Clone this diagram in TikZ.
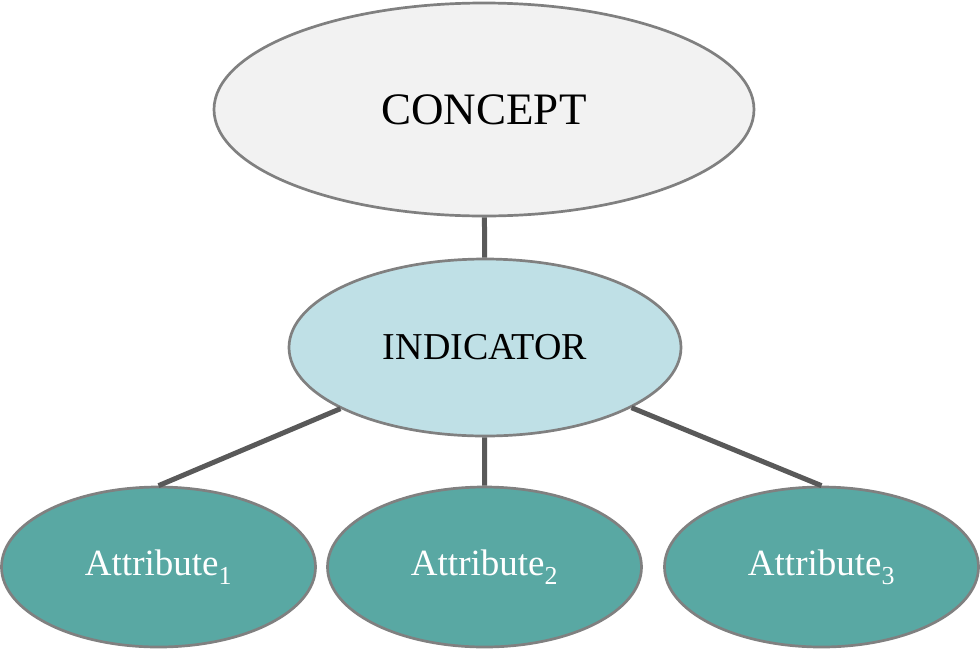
\documentclass[tikz,border=0pt]{standalone}
\usepackage{fontspec}
\setmainfont{Liberation Serif}
\usetikzlibrary{shapes.geometric}
\definecolor{outl}{HTML}{808080}
\definecolor{conn}{HTML}{595959}
\definecolor{cfill}{HTML}{F2F2F2}
\definecolor{ifill}{HTML}{BFE0E6}
\definecolor{afill}{HTML}{59A8A3}
\tikzset{
  oval/.style={ellipse, draw=outl, line width=2.7pt, inner sep=0pt},
  conceptbox/.style={oval, fill=cfill, minimum width=540pt, minimum height=213pt,
    font=\fontsize{45}{50}\selectfont},
  indbox/.style={oval, fill=ifill, minimum width=392pt, minimum height=177pt,
    font=\fontsize{38}{42}\selectfont},
  attrbox/.style={oval, fill=afill, minimum width=314pt, minimum height=160pt,
    text=white, font=\fontsize{37}{40}\selectfont},
  link/.style={draw=conn, line width=5pt}
}
\begin{document}
\begin{tikzpicture}[x=1pt,y=-1pt]
\useasboundingbox (0,0) rectangle (980,649);
\node[conceptbox] (con) at (484,109.5) {CONCEPT};
\node[indbox] (ind) at (485,347.5) {INDICATOR};
\node[attrbox] (a1) at (158.5,567) {Attribute\textsubscript{1}};
\node[attrbox] (a2) at (484.5,567) {Attribute\textsubscript{2}};
\node[attrbox] (a3) at (821.5,567) {Attribute\textsubscript{3}};
\draw[link] (con) -- (ind);
\draw[link] (ind) -- (a1.north);
\draw[link] (ind) -- (a2.north);
\draw[link] (ind) -- (a3.north);
\end{tikzpicture}
\end{document}
